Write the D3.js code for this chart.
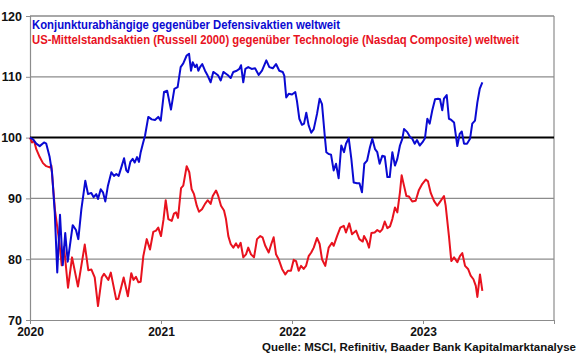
<!DOCTYPE html>
<html lang="de">
<head>
<meta charset="UTF-8">
<title>Konjunktur vs. Defensiv</title>
<script src="https://cdn.jsdelivr.net/npm/d3@7"></script>
<style>
  html, body { margin: 0; padding: 0; background: #fff; }
  svg { display: block; font-family: "Liberation Sans", Arial, sans-serif; }
</style>
</head>
<body>
<div id="chart"></div>
<script>
// time in decimal years since 2020, values indexed (start = 100)
const blueTimes = [0.000,0.023,0.048,0.074,0.107,0.124,0.150,0.168,0.189,0.208,0.229,0.250,0.269,0.288,0.326,0.351,0.369,0.392,0.422,0.443,0.468,0.486,0.506,0.519,0.540,0.557,0.575,0.595,0.621,0.641,0.659,0.677,0.697,0.718,0.735,0.748,0.766,0.784,0.799,0.817,0.832,0.845,0.863,0.878,0.903,0.929,0.954,0.979,0.998,1.023,1.047,1.076,1.102,1.127,1.150,1.170,1.196,1.214,1.229,1.242,1.260,1.273,1.285,1.298,1.315,1.336,1.356,1.379,1.399,1.420,1.437,1.456,1.476,1.496,1.514,1.532,1.552,1.578,1.598,1.611,1.628,1.644,1.666,1.692,1.718,1.746,1.771,1.804,1.827,1.853,1.878,1.903,1.929,1.941,1.956,1.975,2.000,2.025,2.038,2.056,2.076,2.092,2.109,2.127,2.147,2.166,2.191,2.211,2.229,2.250,2.262,2.280,2.298,2.318,2.336,2.356,2.376,2.397,2.412,2.433,2.453,2.471,2.496,2.515,2.534,2.552,2.573,2.595,2.613,2.634,2.651,2.669,2.689,2.708,2.728,2.746,2.766,2.786,2.804,2.824,2.842,2.855,2.880,2.901,2.918,2.937,2.954,2.975,2.995,3.015,3.033,3.051,3.071,3.092,3.115,3.130,3.147,3.160,3.181,3.198,3.216,3.237,3.262,3.280,3.296,3.313,3.336,3.359,3.376,3.397,3.415,3.433,3.453];
const blueValues = [100,99.7,99.0,98.6,99.2,99.0,96.8,94.3,87.7,77.8,87.3,79.0,84.3,79.6,85.6,84.8,83.3,88.2,92.9,90.7,90.9,90.2,90.7,89.9,91.5,91.0,89.5,92.1,94.3,93.7,94.0,93.7,95.1,96.6,94.6,94.3,96.0,96.5,95.9,96.8,96.0,97.6,99.1,100.3,103.4,103.0,102.9,103.4,102.8,107.5,107.7,104.6,108.0,108.3,111.6,112.2,113.5,113.8,111.0,112.4,111.6,112.0,111.0,111.6,112.1,111.0,110.2,109.1,110.8,110.5,110.2,109.4,110.8,110.5,110.2,109.8,110.8,111.0,111.3,111.9,109.1,111.3,111.6,111.3,111.4,110.3,111.0,112.7,111.6,111.4,112.1,111.0,110.8,110.2,106.6,107.2,107.1,107.5,106.0,103.1,102.1,102.3,104.1,102.0,100.8,101.4,103.9,106.4,105.5,100.3,97.6,97.3,97.2,94.6,95.7,93.3,98.7,97.6,99.0,99.9,96.5,92.6,92.5,92.5,91.0,95.7,96.2,98.4,99.8,98.1,97.6,95.7,97.0,96.9,93.5,93.5,97.6,95.4,96.5,98.7,99.8,101.4,100.9,100.1,99.8,99.0,99.6,98.7,99.2,99.9,103.1,102.3,104.5,106.3,106.4,106.3,104.5,106.4,107.0,103.1,102.9,102.5,98.6,100.6,101.0,99.0,99.0,99.8,102.3,102.8,105.8,108.0,109.1];

const redTimes = [0.000,0.015,0.031,0.048,0.074,0.099,0.124,0.150,0.163,0.191,0.225,0.242,0.260,0.290,0.321,0.366,0.418,0.445,0.469,0.494,0.519,0.548,0.565,0.598,0.617,0.658,0.674,0.715,0.747,0.773,0.790,0.809,0.828,0.845,0.865,0.891,0.916,0.941,0.962,0.979,1.000,1.019,1.036,1.056,1.082,1.099,1.115,1.130,1.153,1.170,1.196,1.216,1.234,1.252,1.273,1.290,1.313,1.336,1.356,1.379,1.395,1.420,1.437,1.458,1.481,1.496,1.514,1.532,1.552,1.573,1.590,1.608,1.628,1.649,1.666,1.687,1.710,1.733,1.758,1.775,1.796,1.822,1.842,1.860,1.878,1.898,1.924,1.949,1.969,1.992,2.013,2.031,2.051,2.069,2.089,2.107,2.127,2.147,2.166,2.191,2.211,2.229,2.254,2.280,2.305,2.318,2.344,2.369,2.395,2.412,2.437,2.458,2.489,2.514,2.540,2.550,2.571,2.588,2.606,2.631,2.651,2.672,2.689,2.708,2.728,2.748,2.766,2.786,2.804,2.824,2.837,2.855,2.873,2.893,2.918,2.944,2.969,2.995,3.021,3.038,3.059,3.084,3.109,3.135,3.160,3.173,3.198,3.216,3.237,3.262,3.282,3.300,3.321,3.344,3.364,3.385,3.403,3.415,3.435,3.453];
const redValues = [100,99.2,99.5,98.1,96.8,95.8,95.3,95.1,95.4,88.0,82.6,79.0,82.0,75.3,80.3,75.5,82.4,78.2,78.3,77.0,72.3,77.0,77.6,76.6,77.8,73.4,73.5,77.0,73.9,77.7,76.6,77.1,76.2,76.3,80.5,83.3,81.6,84.5,84.7,85.2,83.8,86.5,89.7,86.6,86.3,87.5,87.7,86.8,91.7,92.1,95.3,94.3,91.5,90.7,88.8,87.8,88.2,89.1,89.7,89.1,90.4,91.3,90.4,88.8,88.0,86.6,83.8,82.5,81.9,82.6,81.9,82.7,80.3,80.8,81.9,80.8,80.3,83.3,83.8,83.6,82.2,81.1,82.5,83.6,80.8,80.0,78.4,77.5,78.1,78.1,79.9,79.7,78.1,78.9,78.4,78.9,80.5,81.1,81.9,83.5,82.5,80.0,78.9,81.9,82.7,82.2,83.8,85.2,85.5,84.4,85.9,84.1,84.7,83.3,82.9,83.8,83.0,81.9,84.3,84.4,84.8,84.5,84.9,86.2,85.1,85.4,86.6,88.5,87.7,91.0,93.8,92.1,90.4,90.3,89.5,89.6,91.4,92.4,93.1,92.8,90.9,89.6,88.8,89.6,90.4,88.8,83.8,79.7,80.3,79.5,80.5,81.0,78.9,78.4,77.3,76.7,75.6,73.8,77.5,74.8];

const yTicks = [70, 80, 90, 100, 110, 120];
const xTicks = [2020, 2021, 2022, 2023, 2024];
const xLabels = ["2020", "2021", "2022", "2023", ""];
const seriesNames = [
  "Konjunkturabhängige gegenüber Defensivaktien weltweit",
  "US-Mittelstandsaktien (Russell 2000) gegenüber Technologie (Nasdaq Composite) weltweit"
];
const sourceText = "Quelle: MSCI, Refinitiv, Baader Bank Kapitalmarktanalyse";

const width = 580, height = 359;
const plotLeft = 30, plotRight = 554, plotTop = 16, plotBottom = 320;
const blue = "#0a0ad2", red = "#e8121e";
const frameColor = "#8c8c8c";

const svg = d3.select("#chart").append("svg")
  .attr("width", width).attr("height", height);

const x = d3.scaleLinear().domain([2020, 2024]).range([plotLeft, plotRight]);
const y = d3.scaleLinear().domain([70, 120]).range([plotBottom, plotTop]);

// grid lines
svg.append("g").selectAll("line")
  .data(yTicks.filter(d => d !== 100 && d !== 70))
  .join("line")
  .attr("x1", plotLeft).attr("x2", plotRight)
  .attr("y1", d => y(d)).attr("y2", d => y(d))
  .attr("stroke", frameColor).attr("stroke-width", 1.2);

// right border
svg.append("line")
  .attr("x1", plotRight).attr("x2", plotRight).attr("y1", plotTop).attr("y2", plotBottom)
  .attr("stroke", frameColor).attr("stroke-width", 1.2);

// y axis
const yAxis = svg.append("g")
  .attr("transform", `translate(${plotLeft},0)`)
  .call(d3.axisLeft(y).tickValues(yTicks).tickSize(4).tickPadding(4));
yAxis.select(".domain").attr("stroke", frameColor).attr("stroke-width", 1.2);
yAxis.selectAll(".tick line").attr("stroke", frameColor);
yAxis.selectAll(".tick text")
  .attr("font-size", 12.5).attr("font-weight", "bold").attr("fill", "#111")
  .style("font-family", "Liberation Sans, Arial, sans-serif");

// x axis
const xAxis = svg.append("g")
  .attr("transform", `translate(0,${plotBottom})`)
  .call(d3.axisBottom(x).tickValues(xTicks)
    .tickFormat((d, i) => xLabels[i]).tickSize(4).tickSizeOuter(0).tickPadding(3));
xAxis.select(".domain").attr("stroke", frameColor).attr("stroke-width", 1.2);
xAxis.selectAll(".tick line").attr("stroke", frameColor);
xAxis.selectAll(".tick text")
  .attr("font-size", 12).attr("font-weight", "bold").attr("fill", "#111")
  .style("font-family", "Liberation Sans, Arial, sans-serif");

// top border
svg.append("line")
  .attr("x1", plotLeft).attr("x2", plotRight).attr("y1", plotTop).attr("y2", plotTop)
  .attr("stroke", frameColor).attr("stroke-width", 1.2);

// 100 line
svg.append("line")
  .attr("x1", plotLeft).attr("x2", plotRight).attr("y1", y(100)).attr("y2", y(100))
  .attr("stroke", "#000").attr("stroke-width", 2);

const line = d3.line()
  .x(d => x(2020 + d[0]))
  .y(d => y(d[1]));

svg.append("path")
  .datum(redTimes.map((t, i) => [t, redValues[i]]))
  .attr("fill", "none").attr("stroke", red).attr("stroke-width", 2)
  .attr("stroke-linejoin", "round").attr("d", line);

svg.append("path")
  .datum(blueTimes.map((t, i) => [t, blueValues[i]]))
  .attr("fill", "none").attr("stroke", blue).attr("stroke-width", 2)
  .attr("stroke-linejoin", "round").attr("d", line);

// legend texts
svg.append("text")
  .attr("x", 32).attr("y", 29)
  .attr("font-size", 12).attr("font-weight", "bold").attr("fill", blue)
  .attr("textLength", 308).attr("lengthAdjust", "spacingAndGlyphs")
  .text(seriesNames[0]);
svg.append("text")
  .attr("x", 32).attr("y", 44)
  .attr("font-size", 12).attr("font-weight", "bold").attr("fill", red)
  .attr("textLength", 487).attr("lengthAdjust", "spacingAndGlyphs")
  .text(seriesNames[1]);

// source
svg.append("text")
  .attr("x", 576).attr("y", 351).attr("text-anchor", "end")
  .attr("font-size", 11).attr("font-weight", "bold").attr("fill", "#111")
  .attr("textLength", 314).attr("lengthAdjust", "spacingAndGlyphs")
  .text(sourceText);
</script>
</body>
</html>
